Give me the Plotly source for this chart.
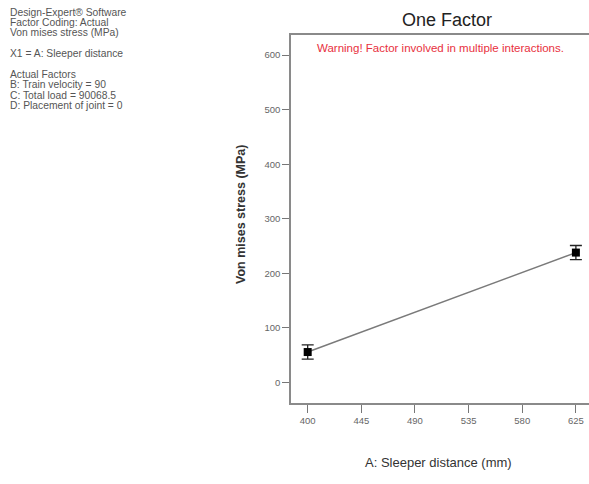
import plotly.graph_objects as go

# data
sleeper_distance = [400, 625]
stress = [55.7, 238.0]
stress_err = [13.0, 13.0]
x_ticks = [400, 445, 490, 535, 580, 625]
y_ticks = [0, 100, 200, 300, 400, 500, 600]
info_lines = [
    "Design-Expert® Software",
    "Factor Coding: Actual",
    "Von mises stress (MPa)",
    "",
    "X1 = A: Sleeper distance",
    "",
    "Actual Factors",
    "B: Train velocity = 90",
    "C: Total load = 90068.5",
    "D: Placement of joint = 0",
]

W, H = 589, 484
L, R, T, B = 291, 0, 35, 81
ph = H - T - B

def py(p):  # pixel y -> paper y
    return (H - B - p) / ph

def px(p):
    return (p - L) / (W - L - R)

narrow = "Liberation Sans Narrow, Arial Narrow, Liberation Sans, Arial, sans-serif"
sans = "Liberation Sans, Arial, sans-serif"

fig = go.Figure()
fig.add_trace(go.Scatter(
    x=sleeper_distance, y=stress, mode="lines+markers",
    line=dict(color="#7a7a7a", width=1.5),
    marker=dict(symbol="square", size=8, color="black"),
    error_y=dict(type="data", array=stress_err, visible=True,
                 color="#222222", thickness=1.3, width=6),
    showlegend=False, hoverinfo="x+y",
))

annots = []
for i, t in enumerate(info_lines):
    if not t:
        continue
    annots.append(dict(text=t, xref="paper", yref="paper",
                       x=px(8), y=py(12 + i * 10.4), xanchor="left", yanchor="middle",
                       showarrow=False, font=dict(family=narrow, size=10.3, color="#555555")))
annots.append(dict(text="One Factor", xref="paper", yref="paper", x=px(447), y=py(20),
                   xanchor="center", yanchor="middle", showarrow=False,
                   font=dict(family=sans, size=18, color="#222222")))
annots.append(dict(text="Warning! Factor involved in multiple interactions.", xref="paper", yref="paper",
                   x=px(440), y=py(48), xanchor="center", yanchor="middle", showarrow=False,
                   font=dict(family=narrow, size=11.5, color="#e83040")))
annots.append(dict(text="<b>Von mises stress (MPa)</b>", xref="paper", yref="paper",
                   x=px(241), y=py(215), xanchor="center", yanchor="middle", textangle=-90,
                   showarrow=False, font=dict(family=sans, size=12.5, color="#333333")))
annots.append(dict(text="A: Sleeper distance (mm)", xref="paper", yref="paper",
                   x=px(438), y=py(462), xanchor="center", yanchor="middle",
                   showarrow=False, font=dict(family=sans, size=13, color="#333333")))

fig.update_layout(
    width=W, height=H,
    margin=dict(l=L, r=R, t=T, b=B, pad=0),
    paper_bgcolor="white", plot_bgcolor="white",
    annotations=annots,
    xaxis=dict(range=[386, 636], tickvals=x_ticks, ticktext=[str(v) for v in x_ticks],
               showgrid=False, zeroline=False, showline=True, linecolor="#8a8a8a", linewidth=1.5,
               mirror=True, ticks="outside", ticklen=8, tickwidth=1, tickcolor="#777777",
               tickfont=dict(family=narrow, size=9.5, color="#666666")),
    yaxis=dict(range=[-37.7, 636.8], tickvals=y_ticks, ticktext=[str(v) for v in y_ticks],
               showgrid=False, zeroline=False, showline=True, linecolor="#8a8a8a", linewidth=1.5,
               mirror=False, ticks="outside", ticklen=7, tickwidth=1, tickcolor="#777777",
               tickfont=dict(family=narrow, size=9.5, color="#666666")),
)
fig.write_html("out.html")
